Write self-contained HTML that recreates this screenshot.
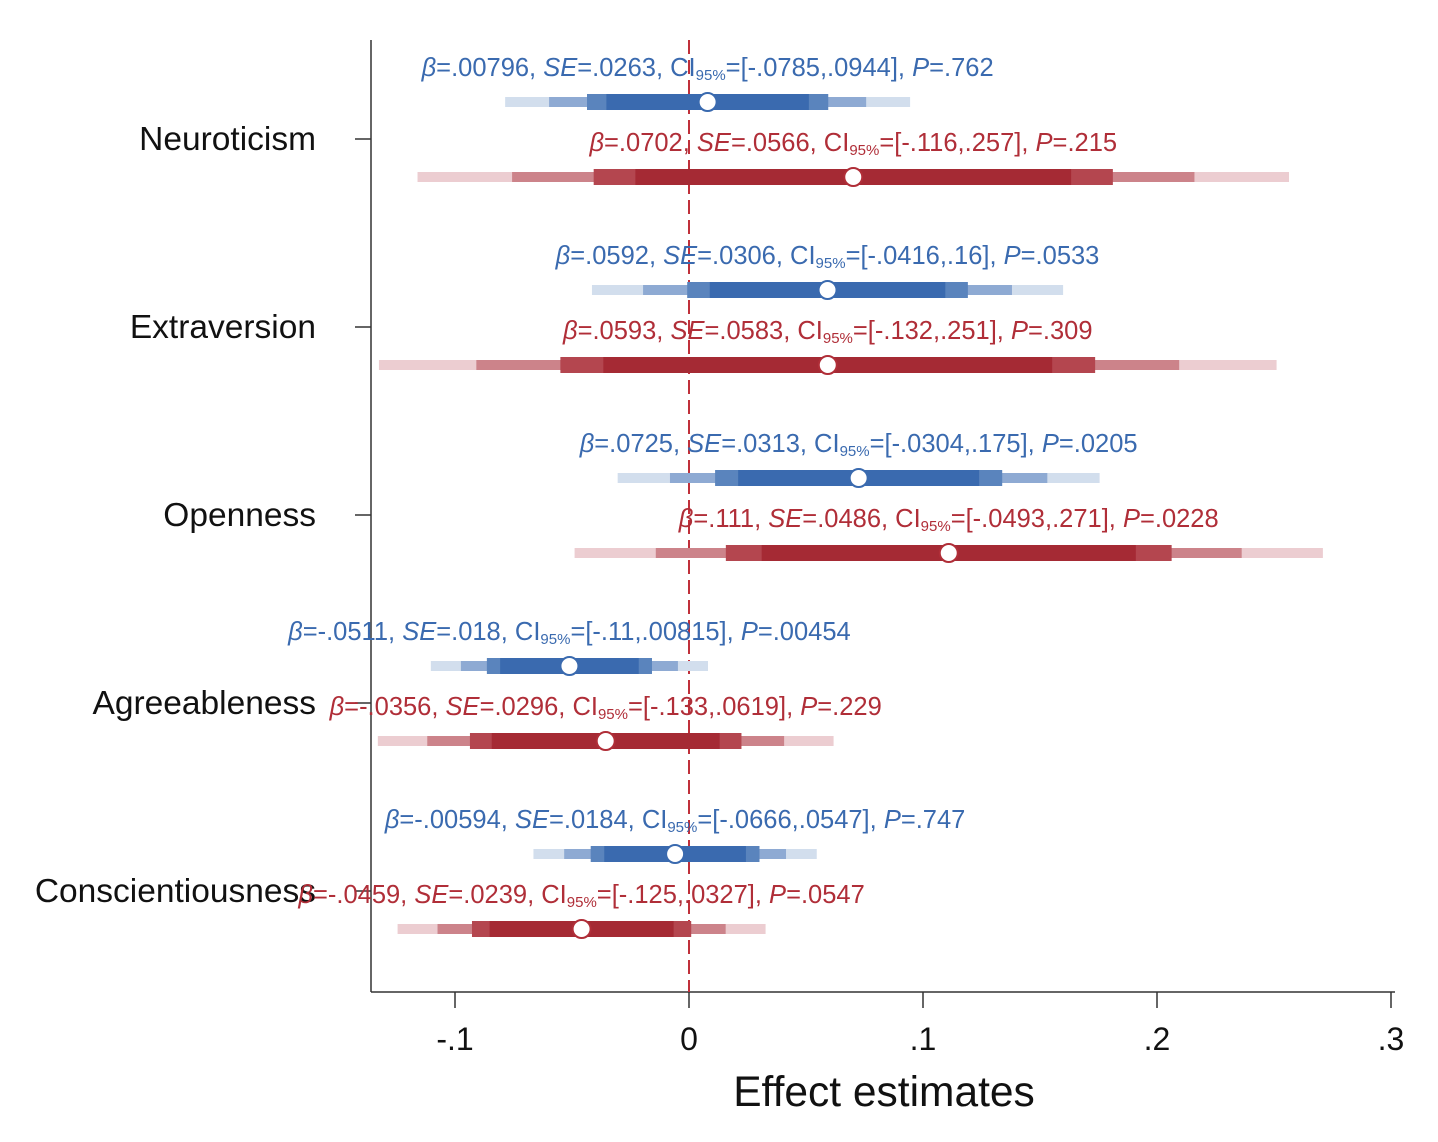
<!DOCTYPE html>
<html><head><meta charset="utf-8"><style>
html,body{margin:0;padding:0;background:#fff;}
svg{display:block;font-family:"Liberation Sans",sans-serif;}
</style></head><body>
<svg id="chart" width="1438" height="1142" viewBox="0 0 1438 1142"></svg>
<script>
const categories=["Neuroticism","Extraversion","Openness","Agreeableness","Conscientiousness"];
const blueBeta=[0.00796,0.0592,0.0725,-0.0511,-0.00594];
const blueSE=[0.0263,0.0306,0.0313,0.018,0.0184];
const blueBetaTxt=[".00796",".0592",".0725","-.0511","-.00594"];
const blueSETxt=[".0263",".0306",".0313",".018",".0184"];
const blueCITxt=["[-.0785,.0944]","[-.0416,.16]","[-.0304,.175]","[-.11,.00815]","[-.0666,.0547]"];
const bluePTxt=[".762",".0533",".0205",".00454",".747"];
const redBeta=[0.0702,0.0593,0.111,-0.0356,-0.0459];
const redSE=[0.0566,0.0583,0.0486,0.0296,0.0239];
const redBetaTxt=[".0702",".0593",".111","-.0356","-.0459"];
const redSETxt=[".0566",".0583",".0486",".0296",".0239"];
const redCITxt=["[-.116,.257]","[-.132,.251]","[-.0493,.271]","[-.133,.0619]","[-.125,.0327]"];
const redPTxt=[".215",".309",".0228",".229",".0547"];
const xTicks=[-0.1,0,0.1,0.2,0.3];
const xTickLabels=["-.1","0",".1",".2",".3"];

const NS="http://www.w3.org/2000/svg";
const svg=document.getElementById('chart');
const X=v=>689+v*2340;
const rowY=i=>139+i*188;
function el(tag,attrs,parent){const e=document.createElementNS(NS,tag);for(const k in attrs)e.setAttribute(k,attrs[k]);(parent||svg).appendChild(e);return e;}

let a=el('line',{x1:371,y1:40,x2:371,y2:992,stroke:'#333','stroke-width':1.5});


a=el('line',{x1:371,y1:992,x2:1395,y2:992,stroke:'#333','stroke-width':1.5});


xTicks.forEach((t,i)=>{
  const tk=el('line',{x1:X(t),y1:992,x2:X(t),y2:1008,stroke:'#333','stroke-width':1.5});
  
  
  const tl=el('text',{x:X(t),y:1050,'font-size':32,'text-anchor':'middle',fill:'#111'});
  tl.textContent=xTickLabels[i];
  
  
});
const title=el('text',{x:884,y:1106,'font-size':42.5,'text-anchor':'middle',fill:'#111'});
title.textContent='Effect estimates';



const z=el('line',{x1:X(0),y1:40,x2:X(0),y2:992,stroke:'#c0303a','stroke-width':2,'stroke-dasharray':'14 6'});



categories.forEach((c,i)=>{
  const y=rowY(i);
  const tk=el('line',{x1:355,y1:y,x2:371,y2:y,stroke:'#333','stroke-width':1.5});
  
  
  const t=el('text',{x:316,y:y+11,'font-size':33.5,'text-anchor':'end',fill:'#111'});
  t.textContent=c;
  
  
});

const zs=[3.29,2.576,1.96,1.645];
const hs=[10,10,16,16];
function series(beta,se,bt,st,ct,pt,cols,stroke,off,name){
  beta.forEach((b,i)=>{
    const y=rowY(i)+off;
    const g=el('g',{});
    
    
    zs.forEach((zz,k)=>{
      const x1=X(b-zz*se[i]),x2=X(b+zz*se[i]);
      const r=el('rect',{x:x1,y:y-hs[k]/2,width:x2-x1,height:hs[k],fill:cols[k]},g);
      
      
    });
    const c=el('circle',{cx:X(b),cy:y,r:9,fill:'#fff',stroke:stroke,'stroke-width':2},g);
    
    
    const t=el('text',{x:X(b),y:y-26,'font-size':25.5,'text-anchor':'middle',fill:stroke},g);
    
    
    t.innerHTML='<tspan font-style="italic">β</tspan>='+bt[i]+', <tspan font-style="italic">SE</tspan>='+st[i]+', CI<tspan font-size="15" dy="4">95%</tspan><tspan dy="-4">='+ct[i]+', </tspan><tspan font-style="italic">P</tspan>='+pt[i];
  });
}
series(blueBeta,blueSE,blueBetaTxt,blueSETxt,blueCITxt,bluePTxt,['#d2deed','#8eaad3','#5a84bd','#3a6aaf'],'#3a6aaf',-37,'blue-estimate');
series(redBeta,redSE,redBetaTxt,redSETxt,redCITxt,redPTxt,['#eccdd1','#cc838a','#b4464f','#a52a34'],'#b02e38',38,'red-estimate');
</script>
</body></html>
